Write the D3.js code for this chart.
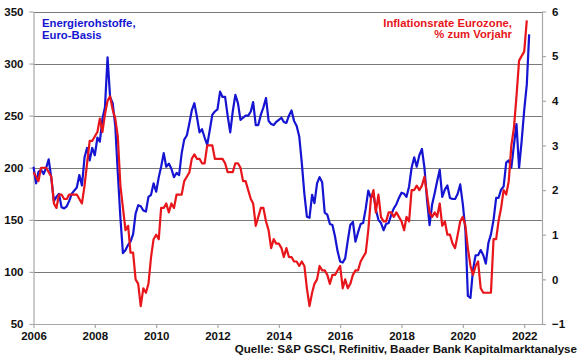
<!DOCTYPE html>
<html>
<head>
<meta charset="utf-8">
<script src="https://cdn.jsdelivr.net/npm/d3@7"></script>
<style>
  html, body { margin: 0; padding: 0; background: #fff; }
  svg { display: block; }
  text { font-family: "Liberation Sans", Arial, sans-serif; font-weight: bold; }
</style>
</head>
<body>
<svg id="chart" width="580" height="359"></svg>
<script>
// Monthly series, first value = Jan 2006
const startYear = 2006;

// S&P GSCI Energy, Euro basis (left axis)
const energyEuro = [
  201, 185, 196, 198, 194, 200, 208, 190, 168, 172, 175, 162,   // 2006
  161, 163, 168, 175, 178, 181, 193, 183, 210, 219, 207, 219,   // 2007
  212, 229, 225, 247, 258, 306, 268, 262, 240, 195, 152, 118,   // 2008
  121, 126, 129, 136, 156, 164, 163, 159, 158, 172, 174, 185,   // 2009
  177, 191, 201, 214, 201, 204, 199, 191, 195, 193, 214, 227,   // 2010
  231, 243, 255, 262, 249, 234, 237, 229, 222, 236, 251, 254,   // 2011
  256, 273, 268, 268, 250, 234, 254, 270, 262, 246, 248, 250,   // 2012
  250, 254, 263, 241, 241, 251, 258, 267, 245, 242, 241, 244,   // 2013
  246, 248, 244, 243, 250, 255, 245, 240, 230, 205, 175, 153,   // 2014
  152, 174, 166, 185, 191, 186, 157, 155, 146, 145, 134, 120,   // 2015
  110, 109, 113, 130, 145, 148, 129, 138, 146, 147, 161, 178,   // 2016
  171, 175, 160, 150, 147, 140, 146, 147, 155, 161, 165, 171,   // 2017
  176, 175, 172, 182, 200, 210, 201, 212, 218, 200, 169, 145,   // 2018
  165, 176, 187, 198, 172, 179, 183, 171, 170, 170, 175, 184,   // 2019
  165, 140,  77,  75, 102, 116, 116, 121, 116, 108, 128, 136,   // 2020
  150, 171, 171, 179, 182, 205, 207, 200, 222, 242, 200, 225,   // 2021
  255, 280, 328                                                  // 2022
];

// Euro area inflation rate, % y/y (right axis)
const inflation = [
  2.4, 2.3, 2.2, 2.5, 2.5, 2.5, 2.4, 2.3, 1.7, 1.6, 1.9, 1.9,   // 2006
  1.8, 1.8, 1.9, 1.9, 1.9, 1.9, 1.8, 1.7, 2.1, 2.6, 3.1, 3.1,   // 2007
  3.2, 3.3, 3.6, 3.3, 3.7, 4.0, 4.1, 3.8, 3.6, 3.2, 2.1, 1.6,   // 2008
  1.1, 1.2, 0.6, 0.6, 0.0, -0.1, -0.6, -0.2, -0.3, -0.1, 0.5, 0.9, // 2009
  1.0, 0.9, 1.6, 1.6, 1.7, 1.5, 1.7, 1.6, 1.9, 1.9, 1.9, 2.2,   // 2010
  2.3, 2.4, 2.7, 2.8, 2.7, 2.7, 2.6, 2.6, 3.0, 3.0, 3.0, 2.7,   // 2011
  2.7, 2.7, 2.7, 2.6, 2.4, 2.4, 2.4, 2.6, 2.6, 2.5, 2.2, 2.2,   // 2012
  2.0, 1.8, 1.7, 1.2, 1.4, 1.6, 1.6, 1.3, 1.1, 0.7, 0.9, 0.8,   // 2013
  0.8, 0.7, 0.5, 0.7, 0.5, 0.5, 0.4, 0.4, 0.3, 0.4, 0.3, -0.2,  // 2014
  -0.6, -0.3, -0.1, 0.0, 0.3, 0.2, 0.2, 0.1, -0.1, 0.1, 0.1, 0.2, // 2015
  0.3, -0.2, 0.0, -0.2, -0.1, 0.1, 0.2, 0.2, 0.4, 0.5, 0.6, 1.1, // 2016
  1.8, 2.0, 1.5, 1.9, 1.4, 1.3, 1.3, 1.5, 1.5, 1.4, 1.5, 1.4,   // 2017
  1.3, 1.1, 1.4, 1.3, 2.0, 2.0, 2.1, 2.0, 2.1, 2.3, 1.9, 1.5,   // 2018
  1.4, 1.5, 1.4, 1.7, 1.2, 1.3, 1.0, 1.0, 0.8, 0.7, 1.0, 1.3,   // 2019
  1.4, 1.2, 0.7, 0.3, 0.1, 0.3, 0.4, -0.2, -0.3, -0.3, -0.3, -0.3, // 2020
  0.9, 0.9, 1.3, 1.6, 2.0, 1.9, 2.2, 3.0, 3.4, 4.1, 4.9, 5.0,   // 2021
  5.1, 5.8                                                      // 2022
];

const xTickYears = [2006, 2008, 2010, 2012, 2014, 2016, 2018, 2020, 2022];
const leftTicks = [50, 100, 150, 200, 250, 300, 350];
const rightTicks = [-1, 0, 1, 2, 3, 4, 5, 6];

const leftLabel = ["Energierohstoffe,", "Euro-Basis"];
const rightLabel = ["Inflationsrate Eurozone,", "% zum Vorjahr"];
const sourceText = "Quelle: S&P GSCI, Refinitiv, Baader Bank Kapitalmarktanalyse";

// ---- layout ----
const svg = d3.select("#chart");
const X0 = 33.5, X1 = 542, Y0 = 11.5, Y1 = 324;
const BLUE = "#1414d2", RED = "#e8151b";

const monthDate = i => new Date(startYear, i, 1);

const x = d3.scaleTime()
  .domain([new Date(2006, 0, 1), new Date(2022, 7, 1)])
  .range([X0, X1]);
const yL = d3.scaleLinear().domain([50, 350]).range([Y1, Y0]);
const yR = d3.scaleLinear().domain([-1, 6]).range([Y1, Y0]);

// gridlines
svg.append("g").selectAll("line")
  .data(leftTicks.filter(v => v > 50))
  .join("line")
  .attr("x1", X0).attr("x2", X1)
  .attr("y1", d => Math.round(yL(d)) + 0.5).attr("y2", d => Math.round(yL(d)) + 0.5)
  .attr("stroke", "#7a7a7a").attr("stroke-width", 1);

// axes
function styleAxis(g) {
  g.select(".domain").attr("stroke", "#a8a8a8").attr("stroke-width", 1.2);
  g.selectAll(".tick line").attr("stroke", "#a8a8a8").attr("stroke-width", 1.2);
  g.selectAll(".tick text").attr("fill", "#111").style("font-size", "11.5px")
    .style("font-weight", "bold").style("font-family", '"Liberation Sans", Arial, sans-serif');
}

const gx = svg.append("g").attr("transform", `translate(0,${Y1})`)
  .call(d3.axisBottom(x)
    .tickValues(xTickYears.map(yy => new Date(yy, 0, 1)))
    .tickFormat(d3.timeFormat("%Y"))
    .tickSizeInner(4).tickSizeOuter(0).tickPadding(4));
styleAxis(gx);

const gl = svg.append("g").attr("transform", `translate(${X0},0)`)
  .call(d3.axisLeft(yL).tickValues(leftTicks).tickSizeInner(4).tickSizeOuter(0).tickPadding(6));
styleAxis(gl);

const gr = svg.append("g").attr("transform", `translate(${X1},0)`)
  .call(d3.axisRight(yR).tickValues(rightTicks).tickFormat(d3.format("d"))
    .tickSizeInner(4).tickSizeOuter(0).tickPadding(6));
styleAxis(gr);

// series
const lineL = d3.line().x((d, i) => x(monthDate(i))).y(d => yL(d));
const lineR = d3.line().x((d, i) => x(monthDate(i))).y(d => yR(d));

svg.append("path").datum(energyEuro)
  .attr("d", lineL).attr("fill", "none")
  .attr("stroke", BLUE).attr("stroke-width", 2.2).attr("stroke-linejoin", "round");

svg.append("path").datum(inflation)
  .attr("d", lineR).attr("fill", "none")
  .attr("stroke", RED).attr("stroke-width", 2.2).attr("stroke-linejoin", "round");

// labels
const tl = svg.append("text").attr("x", 42).attr("y", 27)
  .attr("fill", BLUE).style("font-size", "11.3px");
leftLabel.forEach((t, i) => tl.append("tspan").attr("x", 42).attr("dy", i ? 11.8 : 0).text(t));

const tr = svg.append("text").attr("x", 512).attr("y", 26.5)
  .attr("fill", RED).attr("text-anchor", "end").style("font-size", "11.3px");
rightLabel.forEach((t, i) => tr.append("tspan").attr("x", 512).attr("dy", i ? 11.8 : 0).text(t));

svg.append("text").attr("x", 577).attr("y", 353)
  .attr("text-anchor", "end").attr("fill", "#111")
  .style("font-size", "11.6px").text(sourceText);
</script>
</body>
</html>
